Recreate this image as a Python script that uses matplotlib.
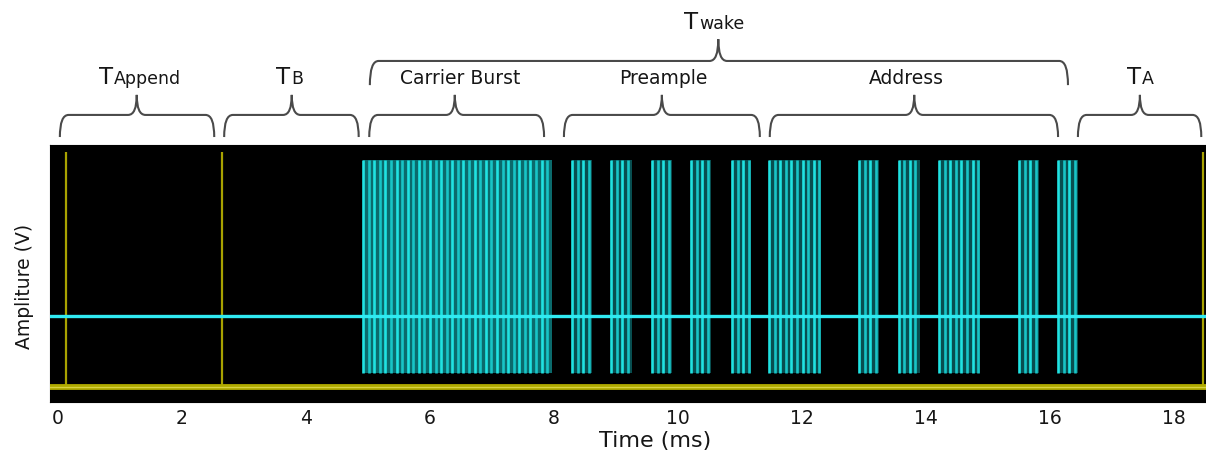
import numpy as np
import matplotlib
matplotlib.use("Agg")
import matplotlib.pyplot as plt
import matplotlib.transforms as mtransforms
from matplotlib.path import Path
from matplotlib.patches import PathPatch

# ---------------- data ----------------
# burst envelopes (ms)
burst_start = [4.92, 8.29, 8.92, 9.58, 10.21, 10.87, 11.47, 12.92, 13.56, 14.21, 15.50, 16.13]
burst_end = [7.97, 8.61, 9.26, 9.90, 10.53, 11.18, 12.31, 13.24, 13.90, 14.87, 15.82, 16.45]
burst_high = 1.0
burst_low = -0.365
carrier_period = 0.09       # visible carrier fringe spacing (ms)
cyan_baseline = 0.0
yellow_level = -0.455
yellow_marks = [0.13, 2.65, 18.47]
yellow_top = 1.05

x_ticks = [0, 2, 4, 6, 8, 10, 12, 14, 16, 18]
x_tick_labels = ["0", "2", "4", "6", "8", "10", "12", "14", "16", "18"]

# brace annotations: (start, end, tip) in ms
brace_lower = [(0.03, 2.52, 1.27), (2.68, 4.85, 3.77), (5.02, 7.84, 6.40),
               (8.16, 11.32, 9.74), (11.48, 16.13, 13.81), (16.45, 18.44, 17.45)]
brace_upper = [(5.03, 16.29, 10.65)]
sub_labels = [("T", "Append", 1.31), ("T", "B", 3.73), ("T", "A", 17.45)]
plain_labels = [("Carrier Burst", 6.48), ("Preample", 9.76), ("Address", 13.69)]
top_label = ("T", "wake", 10.58)

# ---------------- figure ----------------
W, H = 1206, 452
TXT = "#161616"
fig = plt.figure(figsize=(W / 100, H / 100), dpi=100)
fig.patch.set_facecolor("white")
ax = fig.add_axes([50 / W, 49 / H, 1156 / W, 257 / H])
ax.set_facecolor("black")
ax.set_xlim(-0.129, 18.516)
ax.set_ylim(-0.551, 1.096)
for sp in ax.spines.values():
    sp.set_color("black")

# bursts
for k, (s, e) in enumerate(zip(burst_start, burst_end)):
    fill = "#0b6a6c" if k == 0 else "#084e50"
    ax.fill_between([s, e], burst_low, burst_high, color=fill, lw=0, zorder=1)
    ts = np.arange(s, e + 1e-9, carrier_period)
    cols = ["#20e2e2" if i % 2 == 0 else "#18c4c6" for i in range(len(ts))]
    ax.vlines(ts, burst_low, burst_high, colors=cols, lw=1.9, zorder=2)

# cyan baseline
ax.axhline(cyan_baseline, color="#30eaf2", lw=2.4, zorder=3)

# yellow trace
ax.vlines(yellow_marks, yellow_level, yellow_top, colors="#a8a200", lw=1.6, zorder=2)
ax.axhline(yellow_level, color="#b0aa00", lw=4.2, zorder=3)
ax.axhline(yellow_level, color="#d8d244", lw=0.9, zorder=4)

ax.set_yticks([])
ax.set_xticks(x_ticks)
ax.set_xticklabels(x_tick_labels)
ax.tick_params(axis="x", length=0, pad=4, labelsize=13.5, colors=TXT)

fig.text(655 / W, 1 - 441 / H, "Time (ms)", ha="center", va="center",
         fontsize=16, color=TXT)
fig.text(25 / W, 1 - 286 / H, "Ampliture (V)", ha="center", va="center",
         rotation=90, fontsize=13.5, color=TXT)

# braces
trans = mtransforms.blended_transform_factory(ax.transData, ax.transAxes)
brace_color = "#4a4a4a"


def brace(x0, x1, xm, yb, yh, yt, dx=0.14):
    verts = [(x0, yb), (x0, yh), (x0 + dx, yh), (xm - dx, yh), (xm, yh), (xm, yt),
             (xm, yh), (xm + dx, yh), (x1 - dx, yh), (x1, yh), (x1, yb)]
    codes = [Path.MOVETO, Path.CURVE3, Path.CURVE3, Path.LINETO, Path.CURVE3, Path.CURVE3,
             Path.CURVE3, Path.CURVE3, Path.LINETO, Path.CURVE3, Path.CURVE3]
    p = PathPatch(Path(verts, codes), transform=trans, fill=False,
                  edgecolor=brace_color, lw=1.5, clip_on=False)
    ax.add_patch(p)


for x0, x1, xm in brace_lower:
    brace(x0, x1, xm, 1.031, 1.117, 1.195)
for x0, x1, xm in brace_upper:
    brace(x0, x1, xm, 1.233, 1.327, 1.412)

lower_base = 1.24
upper_base = 1.455
for txt, xc in plain_labels:
    ax.text(xc, lower_base, txt, transform=trans, ha="center", va="baseline",
            fontsize=13.5, color=TXT)

pairs = []
for main, sub, xc in sub_labels:
    t1 = ax.text(xc, lower_base, main, transform=trans, ha="left", va="baseline",
                 fontsize=16.5, color=TXT)
    t2 = ax.text(xc, lower_base, sub, transform=trans, ha="left", va="baseline",
                 fontsize=12.5, color=TXT)
    pairs.append((t1, t2, xc))
m, s_, xc = top_label
t1 = ax.text(xc, upper_base, m, transform=trans, ha="left", va="baseline",
             fontsize=16.5, color=TXT)
t2 = ax.text(xc, upper_base, s_, transform=trans, ha="left", va="baseline",
             fontsize=12.5, color=TXT)
pairs.append((t1, t2, xc))

fig.canvas.draw()
r = fig.canvas.get_renderer()
inv = ax.transData.inverted()
for t1, t2, xc in pairs:
    w1 = t1.get_window_extent(r).width
    w2 = t2.get_window_extent(r).width
    xd = ax.transData.transform((xc, 0))[0]
    left = xd - (w1 + w2) / 2
    y = t1.get_position()[1]
    t1.set_position((inv.transform((left, 0))[0], y))
    t2.set_position((inv.transform((left + w1 + 1, 0))[0], y))

fig.savefig("out.png", dpi=100)
